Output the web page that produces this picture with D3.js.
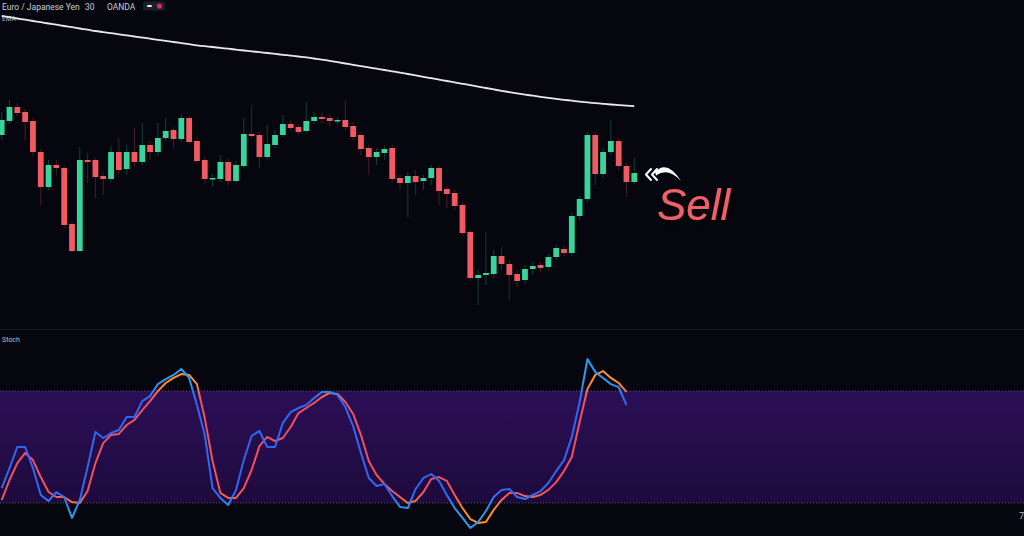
<!DOCTYPE html>
<html><head><meta charset="utf-8">
<script src="https://cdn.jsdelivr.net/npm/d3@7"></script>
<style>html,body{margin:0;padding:0;background:#06070e;overflow:hidden}svg{display:block}</style>
</head><body>
<svg id="c" width="1024" height="536"></svg>
<script>
// ---- data ----
const titleParts = ["Euro / Japanese Yen", "30", "OANDA"];
const emaLabel = "EMA";
const stochLabel = "Stoch";
const signalText = "Sell";
const axisCutLabel = "7";

const open = [
 158.65,158.79,158.93,158.88,158.79,158.48,158.13,158.35,158.32,157.76,
 157.49,158.40,158.40,158.24,158.21,158.48,158.31,158.48,158.38,158.55,
 158.48,158.62,158.70,158.61,158.82,158.59,158.40,158.21,158.21,158.38,
 158.19,158.34,158.66,158.65,158.43,158.55,158.65,158.76,158.73,158.69,
 158.79,158.83,158.82,158.79,158.80,158.74,158.65,158.52,158.43,158.47,
 158.52,158.22,158.17,158.24,158.19,158.22,158.32,158.11,158.07,157.95,
 157.68,157.22,157.25,157.26,157.44,157.36,157.26,157.20,157.31,157.35,
 157.33,157.43,157.51,157.47,157.84,158.01,158.65,158.26,158.48,158.59,
 158.34,158.18];
const high = [
 158.88,159.00,158.97,158.91,158.82,158.51,158.40,158.40,158.35,157.78,
 158.53,158.47,158.42,158.28,158.54,158.62,158.55,158.72,158.77,158.59,
 158.77,158.82,158.73,158.86,158.84,158.62,158.43,158.26,158.45,158.42,
 158.39,158.82,158.95,158.68,158.75,158.70,158.85,158.80,158.76,158.98,
 158.88,158.87,158.86,158.83,159.00,158.78,158.68,158.55,158.52,158.54,
 158.55,158.25,158.28,158.30,158.25,158.35,158.34,158.14,158.10,157.97,
 157.70,157.30,157.68,157.50,157.53,157.40,157.30,157.35,157.38,157.38,
 157.46,157.55,157.54,157.87,158.04,158.68,158.68,158.52,158.80,158.62,
 158.37,158.42];
const low = [
 158.60,158.76,158.84,158.60,158.44,157.95,158.10,158.25,157.72,157.48,
 157.48,158.17,158.02,158.05,158.18,158.26,158.25,158.34,158.35,158.40,
 158.44,158.59,158.52,158.58,158.56,158.37,158.16,158.13,158.18,158.15,
 158.17,158.32,158.62,158.32,158.40,158.52,158.63,158.69,158.66,158.67,
 158.76,158.77,158.74,158.76,158.70,158.60,158.45,158.25,158.35,158.40,
 158.18,158.10,157.83,158.05,158.10,158.15,157.95,157.92,157.90,157.65,
 157.19,156.95,157.15,157.22,157.30,157.00,157.13,157.16,157.25,157.28,
 157.30,157.40,157.44,157.44,157.80,157.98,158.15,158.22,158.45,158.30,
 158.03,158.16];
const close = [
 158.80,158.93,158.87,158.78,158.48,158.13,158.35,158.32,157.75,157.49,
 158.40,158.38,158.23,158.21,158.48,158.30,158.48,158.38,158.55,158.48,
 158.62,158.69,158.61,158.82,158.58,158.39,158.21,158.22,158.38,158.19,
 158.35,158.66,158.64,158.43,158.56,158.65,158.76,158.72,158.68,158.79,
 158.83,158.81,158.79,158.80,158.73,158.63,158.51,158.43,158.48,158.51,
 158.21,158.17,158.24,158.18,158.22,158.32,158.09,158.06,157.94,157.67,
 157.22,157.25,157.27,157.44,157.36,157.25,157.19,157.31,157.34,157.32,
 157.43,157.52,157.47,157.84,158.01,158.65,158.26,158.48,158.59,158.34,
 158.18,158.27];
const ema = [
 159.840,159.828,159.815,159.803,159.790,159.778,159.765,159.753,159.740,159.728,
 159.715,159.703,159.690,159.679,159.668,159.657,159.646,159.635,159.624,159.613,
 159.602,159.591,159.580,159.569,159.558,159.547,159.538,159.530,159.521,159.513,
 159.504,159.495,159.487,159.478,159.470,159.461,159.452,159.444,159.435,159.426,
 159.415,159.404,159.391,159.378,159.365,159.352,159.339,159.326,159.313,159.300,
 159.287,159.274,159.260,159.246,159.232,159.218,159.204,159.190,159.176,159.162,
 159.148,159.134,159.120,159.106,159.092,159.079,159.066,159.054,159.043,159.032,
 159.021,159.011,159.002,158.993,158.984,158.976,158.969,158.962,158.955,158.949,
 158.943,158.938];
const stochK = [
 28.0,38.7,50.0,50.0,38.7,24.3,21.1,25.9,23.2,12.0,
 21.6,39.3,58.0,54.8,57.5,59.1,66.1,66.1,74.6,77.3,
 83.7,86.4,88.6,91.8,87.0,72.5,56.4,28.0,22.7,18.9,
 27.0,43.0,55.9,58.6,50.0,50.0,62.9,68.7,70.9,72.5,
 76.2,79.5,79.5,77.9,71.4,61.2,46.8,33.4,29.1,30.2,
 23.7,17.9,17.3,27.5,33.4,35.5,31.8,24.3,17.3,12.0,
 6.6,9.8,15.7,23.2,27.0,27.5,23.2,22.1,24.3,26.4,
 30.7,37.1,43.0,55.4,74.1,97.1,90.2,87.0,83.7,82.1,
 72.5];
const stochD = [
 21.6,32.3,41.4,46.8,43.0,33.9,25.9,23.2,23.2,20.5,
 20.0,26.4,41.4,52.1,56.4,57.0,61.8,64.5,69.8,74.6,
 80.0,84.3,87.0,89.1,88.6,83.7,65.5,42.5,25.4,22.7,
 22.7,28.0,37.7,50.5,55.4,53.2,54.8,60.7,68.2,70.9,
 73.6,76.8,79.0,78.4,74.1,67.7,56.4,42.5,35.0,30.2,
 26.4,23.2,20.0,21.1,25.9,32.9,33.9,31.8,24.3,17.3,
 11.4,9.3,9.8,16.3,21.6,25.4,25.4,23.7,23.2,24.3,
 27.0,31.2,37.1,44.6,63.4,81.1,88.6,90.7,87.0,84.3,
 79.5];
const bandLevels = [80, 20];

// ---- drawing ----
const W = 1024, H = 536;
const svg = d3.select("#c");
const defs = svg.append("defs");

svg.append("rect").attr("width", W).attr("height", H).attr("fill", "#06070e");

const idx = d3.range(open.length);
const x = d3.scalePoint().domain(idx).range([1.7, 634.3]);
const step = x.step();
const y = d3.scaleLinear().domain([156.70, 160.00]).range([330, 0]);
const ys = d3.scaleLinear().domain([0, 100]).range([540.3, 353.7]);

const GREEN = "#38d49b", RED = "#f15a62";

// pane separator
svg.append("line").attr("x1", 0).attr("x2", W).attr("y1", 329.5).attr("y2", 329.5)
  .attr("stroke", "#161a26").attr("stroke-width", 1);

// title
const tg = svg.append("g").attr("font-family", "Roboto, 'Noto Sans', sans-serif")
  .attr("fill", "#c9ccd5").attr("font-size", 8.5);
tg.append("text").attr("x", 2).attr("y", 9.5).text(titleParts[0]);
tg.append("text").attr("x", 85).attr("y", 9.5).text(titleParts[1]);
tg.append("text").attr("x", 107).attr("y", 9.5).text(titleParts[2]);
svg.append("rect").attr("x", 143).attr("y", 1.5).attr("width", 22).attr("height", 9).attr("rx", 2.5).attr("fill", "#1b1e2b");
svg.append("rect").attr("x", 147).attr("y", 5).attr("width", 5).attr("height", 2).attr("rx", 1).attr("fill", "#e8e8ee");
svg.append("circle").attr("cx", 159.5).attr("cy", 6).attr("r", 2.6).attr("fill", "#e2245c");
svg.append("text").attr("x", 2).attr("y", 20.5).attr("font-family", "Roboto, sans-serif")
  .attr("font-size", 6.5).attr("fill", "#b8bcc6").text(emaLabel);

// EMA line
svg.append("path").datum(idx)
  .attr("d", d3.line().x(i => x(i)).y(i => y(ema[i])).curve(d3.curveMonotoneX))
  .attr("fill", "none").attr("stroke", "#ece8ea").attr("stroke-width", 1.8);

// candles
const cg = svg.append("g");
const bw = step * 0.74;
const cand = cg.selectAll("g").data(idx).join("g");
cand.append("line")
  .attr("x1", i => x(i)).attr("x2", i => x(i))
  .attr("y1", i => y(high[i])).attr("y2", i => y(low[i]))
  .attr("stroke", i => close[i] >= open[i] ? GREEN : RED)
  .attr("stroke-opacity", 0.28).attr("stroke-width", 1);
cand.append("rect")
  .attr("x", i => x(i) - bw / 2).attr("width", bw)
  .attr("y", i => y(Math.max(open[i], close[i])))
  .attr("height", i => Math.max(1.5, Math.abs(y(open[i]) - y(close[i]))))
  .attr("fill", i => close[i] >= open[i] ? GREEN : RED);

// stoch pane
svg.append("text").attr("x", 2).attr("y", 342).attr("font-family", "Roboto, sans-serif")
  .attr("font-size", 7).attr("fill", "#b8bcc6").text(stochLabel);

const bg = defs.append("linearGradient").attr("id", "band").attr("x1", 0).attr("x2", 0).attr("y1", 0).attr("y2", 1);
bg.append("stop").attr("offset", "0%").attr("stop-color", "#2b0f56");
bg.append("stop").attr("offset", "100%").attr("stop-color", "#1e0a3d");
svg.append("rect").attr("x", 0).attr("width", W)
  .attr("y", ys(bandLevels[0])).attr("height", ys(bandLevels[1]) - ys(bandLevels[0]))
  .attr("fill", "url(#band)");
svg.selectAll("line.lvl").data(bandLevels).join("line").attr("class", "lvl")
  .attr("x1", 0).attr("x2", W).attr("y1", d => ys(d)).attr("y2", d => ys(d))
  .attr("stroke", "#5d4d7c").attr("stroke-width", 1).attr("stroke-dasharray", "1,2");

function zoneGrad(id, outer, inner) {
  const g = defs.append("linearGradient").attr("id", id).attr("gradientUnits", "userSpaceOnUse")
    .attr("x1", 0).attr("x2", 0).attr("y1", ys(100)).attr("y2", ys(0));
  const stops = [[100, outer], [86, outer], [74, inner], [26, inner], [14, outer], [0, outer]];
  stops.forEach(([v, c]) => g.append("stop").attr("offset", (100 - v) + "%").attr("stop-color", c));
}
zoneGrad("kGrad", "#2a9cf0", "#2f66f2");
zoneGrad("dGrad", "#ff8f2e", "#f0505c");

const sIdx = d3.range(stochK.length);
svg.append("path").datum(sIdx)
  .attr("d", d3.line().x(i => x(i)).y(i => ys(stochD[i])))
  .attr("fill", "none").attr("stroke", "url(#dGrad)").attr("stroke-width", 2).attr("stroke-linejoin", "round");
svg.append("path").datum(sIdx)
  .attr("d", d3.line().x(i => x(i)).y(i => ys(stochK[i])))
  .attr("fill", "none").attr("stroke", "url(#kGrad)").attr("stroke-width", 2).attr("stroke-linejoin", "round");

svg.append("text").attr("x", 1019).attr("y", 519).attr("font-family", "Roboto, sans-serif")
  .attr("font-size", 9).attr("fill", "#b5b8c0").text(axisCutLabel);

// annotation: arrow + Sell
const sh = defs.append("filter").attr("id", "sh").attr("x", "-30%").attr("y", "-30%").attr("width", "160%").attr("height", "160%");
sh.append("feDropShadow").attr("dx", 3).attr("dy", 3).attr("stdDeviation", 3).attr("flood-color", "#000").attr("flood-opacity", 0.95);

const ag = svg.append("g").attr("fill", "none").attr("stroke", "#ffffff").attr("stroke-width", 2)
  .attr("stroke-linecap", "round").attr("stroke-linejoin", "round");
ag.append("path").attr("d", "M651,169 L646,174.5 L651,180");
ag.append("path").attr("d", "M657,169 L652,174.5 L657,180");
svg.append("path").attr("d", "M655,172 Q667,159 681,181 Q668,167 656,175.5 Z").attr("fill", "#ffffff");

svg.append("text").attr("x", 657).attr("y", 220)
  .attr("font-family", "'Liberation Sans', Arial, sans-serif").attr("font-style", "italic")
  .attr("font-size", 44).attr("fill", "#f0606a").attr("filter", "url(#sh)").text(signalText);
</script>
</body></html>
